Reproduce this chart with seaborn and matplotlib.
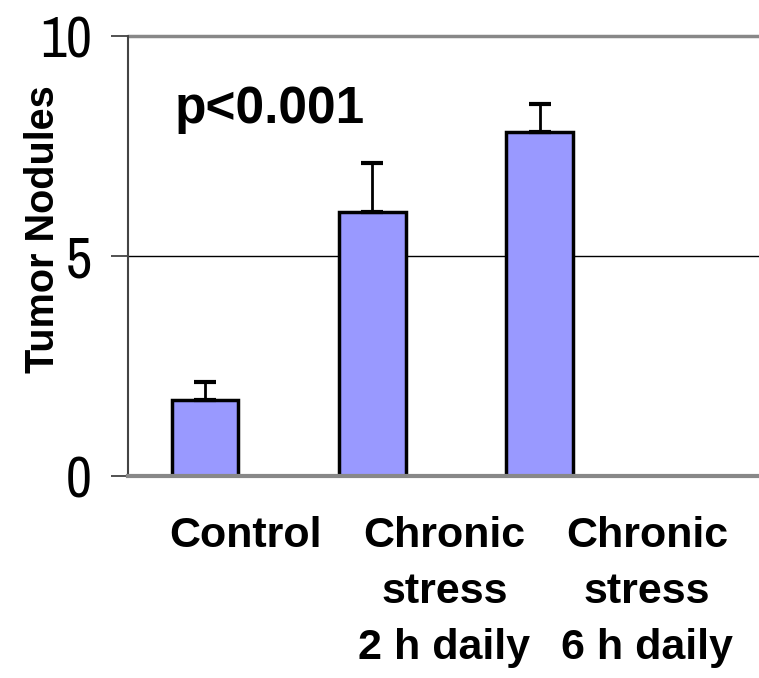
import matplotlib
matplotlib.use("Agg")
import matplotlib.pyplot as plt
import matplotlib.transforms as mtransforms
import seaborn as sns
import pandas as pd
import numpy as np
from matplotlib import font_manager

categories = ["Control", "Chronic\nstress\n2 h daily", "Chronic\nstress\n6 h daily"]
values = [1.73, 6.0, 7.82]
errors_up = [0.41, 1.11, 0.63]
y_ticks = [0, 5, 10]
annotation = "p<0.001"

entries = font_manager.fontManager.ttflist
fam_names = {f.name for f in entries}
if "Liberation Sans Narrow" in fam_names:
    narrow = "Liberation Sans Narrow"
else:
    narrow_fams = sorted(n for n in fam_names if ("Narrow" in n or "Condensed" in n))
    narrow = narrow_fams[0] if narrow_fams else "Liberation Sans"
tick_fs = 41 if narrow != "Liberation Sans" else 33

bold_family = ["Liberation Sans", "DejaVu Sans"]
xlab_fs, ylab_fs = 31, 28.5

sns.set_theme(style="white")
plt.rcParams["font.family"] = [narrow, "DejaVu Sans"]
plt.rcParams["text.color"] = "black"

fig = plt.figure(figsize=(7.59, 6.78), dpi=100)
W, H = 759, 678
ax = fig.add_axes([128 / W, 1 - 476 / H, 1 - 128 / W, (476 - 36) / H])

df = pd.DataFrame({"cat": categories, "val": values})
sns.barplot(data=df, x="cat", y="val", color="#9999FF", width=0.4,
            edgecolor="black", linewidth=2.5, saturation=1, errorbar=None, ax=ax)
ax.errorbar(x=np.arange(len(values)), y=values,
            yerr=[np.zeros(len(values)), errors_up], fmt="none",
            ecolor="black", elinewidth=2, capsize=8, capthick=3, zorder=1)

ax.set_xlim(-0.46, 3.31)
ax.set_ylim(0, 10)
ax.set_yticks(y_ticks)
ax.set_yticklabels([str(t) for t in y_ticks], fontsize=tick_fs, family=[narrow, "DejaVu Sans"],
                   color="black")
ax.tick_params(axis="y", direction="out", length=12, width=1.2, color="#333333", pad=14, left=True)
ax.tick_params(axis="x", length=0)
ax.set_xticks(range(len(categories)))
ax.set_xticklabels([""] * len(categories))

# category labels, shifted right of the bars as in the original layout
label_shift = [0.24, 0.43, 0.64]
trans = mtransforms.blended_transform_factory(ax.transData, fig.transFigure)
for i, cat in enumerate(categories):
    ax.text(i + label_shift[i], 1 - 516 / H, cat, transform=trans, ha="center", va="top",
            fontsize=xlab_fs, fontweight="bold", color="black", linespacing=1.52,
            family=bold_family, clip_on=False)

ax.axhline(5, color="black", lw=1.0, zorder=0)
ax.axhline(10, color="#888888", lw=2.5, zorder=0, clip_on=False)

for s in ["top", "right"]:
    ax.spines[s].set_visible(False)
ax.spines["left"].set_color("#444444")
ax.spines["left"].set_linewidth(1.5)
ax.spines["bottom"].set_color("#888888")
ax.spines["bottom"].set_linewidth(3)

ax.set_xlabel("")
ax.set_ylabel("Tumor Nodules", fontsize=ylab_fs, fontweight="bold", color="black",
              family=bold_family)
ax.yaxis.set_label_coords(-0.104, 0.56)

ax.text(-0.18, 8.02, annotation, fontsize=37, fontweight="bold", color="black",
        family=["Liberation Sans", "DejaVu Sans"], ha="left", va="baseline")

fig.savefig("out.png", dpi=100, facecolor="white")
